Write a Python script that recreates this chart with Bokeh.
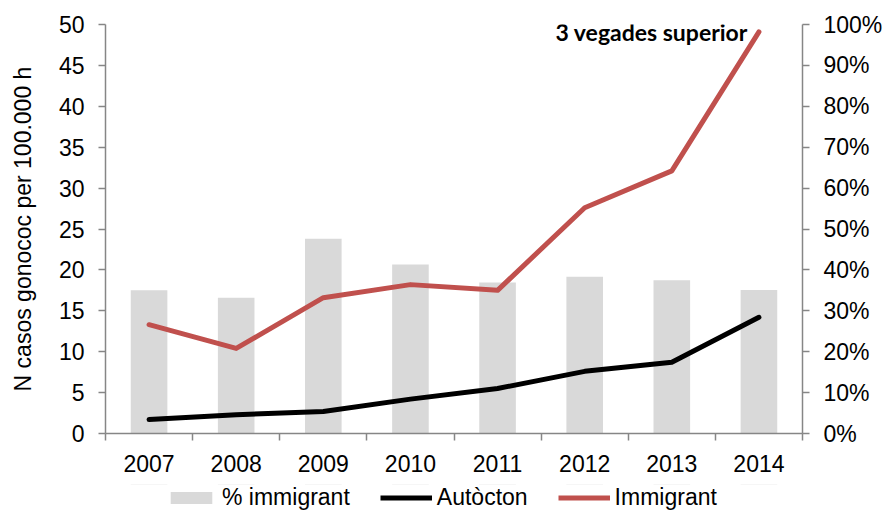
from bokeh.plotting import figure
from bokeh.layouts import column
from bokeh.models import (Range1d, LinearAxis, FixedTicker, Legend, LegendItem,
                          Label, PrintfTickFormatter)
from bokeh.embed import file_html
from bokeh.resources import INLINE
from bokeh.core.properties import value

years = ["2007", "2008", "2009", "2010", "2011", "2012", "2013", "2014"]
pct_immigrant = [35.0, 33.2, 47.6, 41.3, 36.9, 38.3, 37.5, 35.1]
autocton = [1.7, 2.3, 2.7, 4.2, 5.5, 7.6, 8.7, 14.2]
immigrant = [13.3, 10.4, 16.6, 18.2, 17.5, 27.6, 32.1, 49.1]
left_ticks = list(range(0, 51, 5))
right_ticks = list(range(0, 101, 10))
annotation = "3 vegades superior"
series_names = ["% immigrant", "Autòcton", "Immigrant"]

xs = [i + 0.5 for i in range(len(years))]
FONT = "Liberation Sans"
AXIS_GREY = "#868686"
TICK_FS = "23px"
BAR_COLOR = "#D9D9D9"
AUT_COLOR = "#000000"
IMM_COLOR = "#C0504D"
W = 885

p = figure(width=W, height=484, output_backend="svg",
           toolbar_location=None,
           x_range=Range1d(0, len(years)), y_range=Range1d(0, 50),
           min_border_left=105, min_border_right=83, min_border_top=24,
           min_border_bottom=51)
p.extra_y_ranges = {"pct": Range1d(0, 100)}
p.xgrid.visible = False
p.ygrid.visible = False
p.outline_line_color = None
p.background_fill_color = "white"
p.border_fill_color = "white"

bars = p.vbar(x=xs, top=pct_immigrant, width=0.42, y_range_name="pct",
              fill_color=BAR_COLOR, line_color=None)
l_aut = p.line(xs, autocton, line_width=5, line_color=AUT_COLOR,
               line_cap="round", line_join="round")
l_imm = p.line(xs, immigrant, line_width=5, line_color=IMM_COLOR,
               line_cap="round", line_join="round")

# x axis
xa = p.xaxis[0]
xa.axis_label = None
xa.ticker = FixedTicker(ticks=xs, minor_ticks=list(range(len(years) + 1)))
xa.major_label_overrides = {x: y for x, y in zip(xs, years)}
xa.major_tick_out = 0
xa.major_tick_in = 0
xa.minor_tick_out = 7
xa.minor_tick_in = 0
xa.minor_tick_line_color = AXIS_GREY
xa.minor_tick_line_width = 1.5
xa.axis_line_color = AXIS_GREY
xa.axis_line_width = 1.5
xa.major_label_standoff = 14
xa.major_label_text_font = FONT
xa.major_label_text_font_size = TICK_FS
xa.major_label_text_color = "#000000"

# left axis
ya = p.yaxis[0]
ya.ticker = FixedTicker(ticks=left_ticks)
ya.major_tick_out = 7
ya.major_tick_in = 0
ya.minor_tick_out = 0
ya.minor_tick_in = 0
ya.major_tick_line_color = AXIS_GREY
ya.major_tick_line_width = 1.5
ya.axis_line_color = AXIS_GREY
ya.axis_line_width = 1.5
ya.major_label_standoff = 14
ya.major_label_text_font = FONT
ya.major_label_text_font_size = TICK_FS
ya.major_label_text_color = "#000000"
ya.axis_label = "N casos gonococ per 100.000 h"
ya.axis_label_text_font = FONT
ya.axis_label_text_font_size = "23px"
ya.axis_label_text_font_style = "normal"
ya.axis_label_text_color = "#000000"
ya.axis_label_standoff = 20

# right axis
ra = LinearAxis(y_range_name="pct", ticker=FixedTicker(ticks=right_ticks),
                formatter=PrintfTickFormatter(format="%d%%"))
ra.axis_label = None
ra.major_tick_out = 7
ra.major_tick_in = 0
ra.minor_tick_out = 0
ra.minor_tick_in = 0
ra.major_tick_line_color = AXIS_GREY
ra.major_tick_line_width = 1.5
ra.axis_line_color = AXIS_GREY
ra.axis_line_width = 1.5
ra.major_label_standoff = 14
ra.major_label_text_font = FONT
ra.major_label_text_font_size = TICK_FS
ra.major_label_text_color = "#000000"
p.add_layout(ra, "right")

# annotation
lab = Label(x=xs[-1], y=immigrant[-1], text=annotation, text_align="right",
            text_baseline="middle", x_offset=-11, y_offset=0,
            text_font="Lato", text_font_style="bold", text_font_size="23px",
            text_color="#000000")
p.add_layout(lab)

# legend strip (separate small figure directly below the chart);
# its ranges keep the proxy series out of view so only the legend shows
pl = figure(width=W, height=28, output_backend="svg", toolbar_location=None,
            x_range=Range1d(0, len(years)), y_range=Range1d(-2, -1),
            x_axis_type=None, y_axis_type=None,
            min_border_left=0, min_border_right=0, min_border_top=0,
            min_border_bottom=0)
pl.xgrid.visible = False
pl.ygrid.visible = False
pl.outline_line_color = None
g_bar = pl.vbar(x=xs, top=pct_immigrant, width=0.42, fill_color=BAR_COLOR,
                line_color=None)
g_aut = pl.line(xs, autocton, line_width=5, line_color=AUT_COLOR)
g_imm = pl.line(xs, immigrant, line_width=5, line_color=IMM_COLOR)

legend = Legend(items=[
    LegendItem(label=value(series_names[0]), renderers=[g_bar]),
    LegendItem(label=value(series_names[1]), renderers=[g_aut]),
    LegendItem(label=value(series_names[2]), renderers=[g_imm]),
], orientation="horizontal", location=(60, 1), padding=0, margin=0,
    spacing=30, glyph_width=52, glyph_height=15, label_standoff=5,
    label_text_font=FONT, label_text_font_size="23px",
    label_text_color="#000000", border_line_color=None,
    background_fill_alpha=0)
pl.add_layout(legend)

layout = column(p, pl, spacing=0)
open("out.html", "w").write(file_html(layout, INLINE))
